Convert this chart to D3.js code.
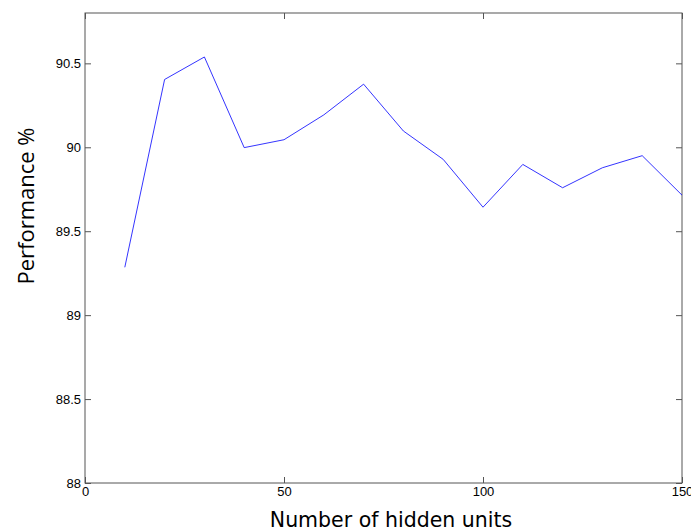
<!DOCTYPE html>
<html>
<head>
<meta charset="utf-8">
<script src="https://cdn.jsdelivr.net/npm/d3@7"></script>
<style>
  body { margin: 0; background: #fff; }
  svg { display: block; }
</style>
</head>
<body>
<div id="chart"></div>
<script>
// data
var hiddenUnits = [10, 20, 30, 40, 50, 60, 70, 80, 90, 100, 110, 120, 130, 140, 150];
var performance = [89.285, 90.404, 90.538, 89.998, 90.045, 90.193, 90.376, 90.097, 89.928, 89.643, 89.898, 89.759, 89.878, 89.95, 89.715];
var xTicks = [0, 50, 100, 150];
var yTicks = [88, 88.5, 89, 89.5, 90, 90.5];

var width = 691, height = 531;
var margin = {left: 85, right: 9, top: 13, bottom: 48};

var svg = d3.select("#chart").append("svg")
    .attr("width", width)
    .attr("height", height);

var x = d3.scaleLinear().domain([0, 150]).range([margin.left, width - margin.right]);
var y = d3.scaleLinear().domain([88, 90.8]).range([height - margin.bottom, margin.top]);

var axisColor = "#555";
var tickLen = 6;

// frame
svg.append("rect")
    .attr("x", x(0))
    .attr("y", y(90.8))
    .attr("width", x(150) - x(0))
    .attr("height", y(88) - y(90.8))
    .attr("fill", "none")
    .attr("stroke", axisColor)
    .attr("stroke-width", 1);

// bottom + left axes, ticks pointing inward
var xAxis = d3.axisBottom(x).tickValues(xTicks).tickSize(-tickLen).tickPadding(4).tickFormat(d3.format("d"));
var yAxis = d3.axisLeft(y).tickValues(yTicks).tickSize(-tickLen).tickPadding(4).tickFormat(function (d) { return d3.format("")(d); });

svg.append("g")
    .attr("transform", "translate(0," + y(88) + ")")
    .call(xAxis);
svg.append("g")
    .attr("transform", "translate(" + x(0) + ",0)")
    .call(yAxis);

// mirrored ticks on top and right
svg.append("g")
    .attr("transform", "translate(0," + y(90.8) + ")")
    .call(d3.axisTop(x).tickValues(xTicks).tickSize(-tickLen).tickFormat(""));
svg.append("g")
    .attr("transform", "translate(" + x(150) + ",0)")
    .call(d3.axisRight(y).tickValues(yTicks).tickSize(-tickLen).tickFormat(""));

svg.selectAll(".domain").remove();
svg.selectAll(".tick line").attr("stroke", axisColor);
svg.selectAll(".tick text")
    .style("font-family", "Arial, 'Liberation Sans', sans-serif")
    .style("font-size", "13px")
    .attr("fill", "#000");

// the line
var line = d3.line()
    .x(function (d, i) { return x(hiddenUnits[i]); })
    .y(function (d) { return y(d); });

svg.append("path")
    .datum(performance)
    .attr("d", line)
    .attr("fill", "none")
    .attr("stroke", "#0000ff")
    .attr("stroke-width", 0.8);

// axis labels
svg.append("text")
    .attr("x", 391)
    .attr("y", 527)
    .attr("text-anchor", "middle")
    .style("font-family", "'DejaVu Sans', sans-serif")
    .style("font-size", "20.5px")
    .text("Number of hidden units");

svg.append("text")
    .attr("transform", "translate(34,206) rotate(-90)")
    .attr("text-anchor", "middle")
    .style("font-family", "'Open Sans', sans-serif")
    .style("font-size", "22px")
    .text("Performance %");
</script>
</body>
</html>
